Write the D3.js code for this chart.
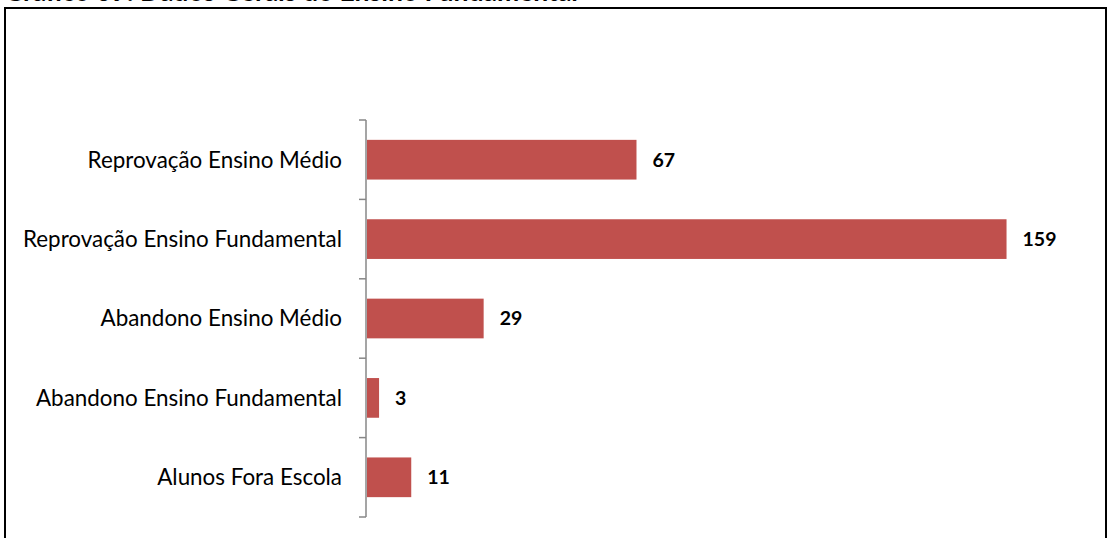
<!DOCTYPE html>
<html>
<head>
<meta charset="utf-8">
<script src="https://cdn.jsdelivr.net/npm/d3@7"></script>
<style>
  html, body { margin: 0; padding: 0; background: #fff; overflow: hidden; }
  svg { display: block; }
</style>
</head>
<body>
<svg id="chart" width="1107" height="538"></svg>
<script>
// Categories top to bottom and their counts
const categories = [
  "Reprovação Ensino Médio",
  "Reprovação Ensino Fundamental",
  "Abandono Ensino Médio",
  "Abandono Ensino Fundamental",
  "Alunos Fora Escola"
];
const values = [67, 159, 29, 3, 11];
const titleText = "Gráfico 09: Dados Gerais do Ensino Fundamental";

const svg = d3.select("#chart");
const W = 1107, H = 538;
const font = "Lato, 'Open Sans', sans-serif";

// Title, mostly above the visible area
svg.append("text")
  .attr("x", 4).attr("y", 1)
  .attr("font-family", font)
  .attr("font-size", 26.5)
  .attr("font-weight", "bold")
  .attr("fill", "#000")
  .text(titleText);

// Frame around the chart area
svg.append("rect")
  .attr("x", 5).attr("y", 8)
  .attr("width", W - 6).attr("height", H + 20)
  .attr("fill", "none")
  .attr("stroke", "#000")
  .attr("stroke-width", 2);

const x = d3.scaleLinear().domain([0, 180]).range([366, 1090]);
const y = d3.scaleBand().domain(categories).range([120, 517]).paddingInner(0.5).paddingOuter(0.25);

// Category axis with ticks at band boundaries
const axisX = 366;
const step = y.step();
const y0 = 120;
const g = svg.append("g");
g.append("line")
  .attr("x1", axisX).attr("x2", axisX)
  .attr("y1", y0).attr("y2", y0 + step * categories.length)
  .attr("stroke", "#878787").attr("stroke-width", 1.5);
d3.range(categories.length + 1).forEach(i => {
  g.append("line")
    .attr("x1", axisX - 7).attr("x2", axisX)
    .attr("y1", y0 + i * step).attr("y2", y0 + i * step)
    .attr("stroke", "#878787").attr("stroke-width", 1.5);
});

// Bars
svg.append("g").selectAll("rect")
  .data(categories)
  .join("rect")
  .attr("x", x(0) + 1)
  .attr("y", d => y(d))
  .attr("width", (d, i) => x(values[i]) - x(0))
  .attr("height", y.bandwidth())
  .attr("fill", "#C0504D");

// Category labels
svg.append("g").selectAll("text")
  .data(categories)
  .join("text")
  .attr("x", 342)
  .attr("y", d => y(d) + y.bandwidth() / 2)
  .attr("dy", "0.35em")
  .attr("text-anchor", "end")
  .attr("font-family", font)
  .attr("font-size", 22.4)
  .attr("fill", "#000")
  .text(d => d);

// Value labels
svg.append("g").selectAll("text")
  .data(categories)
  .join("text")
  .attr("x", (d, i) => x(values[i]) + 17)
  .attr("y", d => y(d) + y.bandwidth() / 2)
  .attr("dy", "0.35em")
  .attr("font-family", font)
  .attr("font-size", 19.5)
  .attr("font-weight", "bold")
  .attr("fill", "#000")
  .text((d, i) => values[i]);
</script>
</body>
</html>
